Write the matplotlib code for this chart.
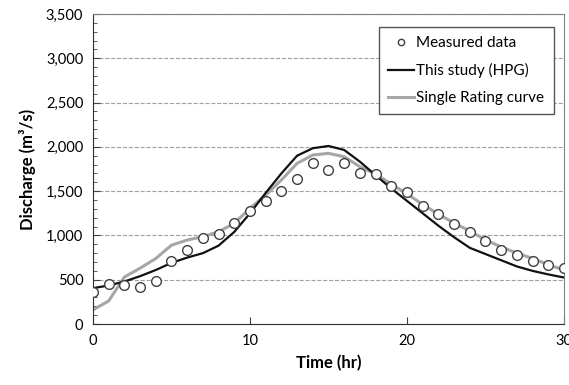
import matplotlib.pyplot as plt
import numpy as np
from matplotlib.ticker import FuncFormatter, MultipleLocator

plt.rcParams['font.family'] = ['Lato', 'DejaVu Sans']

# Data
time_meas = list(range(0, 31))
q_meas = [365, 448, 437, 414, 489, 711, 832, 967, 1016, 1140, 1280, 1393, 1505,
          1641, 1821, 1735, 1821, 1705, 1693, 1558, 1487, 1329, 1246, 1129, 1039,
          933, 839, 779, 715, 662, 636]

time_hpg = list(range(0, 31))
q_hpg = [405, 435, 480, 540, 610, 690, 750, 800, 885, 1040, 1250, 1480, 1700,
         1900, 1985, 2010, 1965, 1833, 1680, 1530, 1390, 1250, 1110, 980, 860,
         790, 720, 650, 600, 560, 525]

time_src = list(range(0, 31))
q_src = [160, 260, 530, 630, 740, 890, 948, 986, 1042, 1137, 1306, 1456, 1626,
         1814, 1908, 1927, 1889, 1776, 1693, 1580, 1470, 1350, 1240, 1140, 1050,
         950, 870, 800, 740, 670, 610]

fig = plt.figure(figsize=(5.69, 3.85), dpi=100)
ax = fig.add_axes([0.1634, 0.1584, 0.8278, 0.8052])

ax.plot(time_meas, q_meas, 'o', markersize=7, markerfacecolor='white',
        markeredgecolor='#404040', markeredgewidth=1.0, label='Measured data', zorder=4)
ax.plot(time_hpg, q_hpg, color='#111111', linewidth=1.6, label='This study (HPG)', zorder=3)
ax.plot(time_src, q_src, color='#a6a6a6', linewidth=2.2, label='Single Rating curve', zorder=2)

ax.set_xlim(0, 30)
ax.set_ylim(0, 3500)
ax.xaxis.set_major_locator(MultipleLocator(10))
ax.yaxis.set_major_locator(MultipleLocator(500))
ax.yaxis.set_minor_locator(MultipleLocator(100))
ax.yaxis.set_major_formatter(FuncFormatter(lambda v, p: '{:,.0f}'.format(v)))

ax.grid(True, axis='y', which='major', linestyle='--', color='#a0a0a0', linewidth=0.8)
ax.set_axisbelow(True)

ax.tick_params(axis='x', which='major', direction='in', length=5, color='#404040',
               labelsize=10.5, pad=7)
ax.tick_params(axis='y', which='major', direction='in', length=5, color='#404040',
               labelsize=10.5, pad=7)
ax.tick_params(axis='y', which='minor', direction='in', length=3, color='#404040')

for side in ['top', 'right']:
    ax.spines[side].set_color('#808080')
for side in ['left', 'bottom']:
    ax.spines[side].set_color('#303030')

ax.set_xlabel('Time (hr)', fontsize=12, fontweight='bold', labelpad=5)
ax.set_ylabel('Discharge (m³/s)', fontsize=12, fontweight='bold', labelpad=7)

leg = ax.legend(loc='upper right', bbox_to_anchor=(0.978, 0.958), fontsize=11,
                fancybox=False, framealpha=1, edgecolor='#555555', markerscale=0.65,
                handlelength=1.7, handletextpad=0.15, borderpad=0.6, labelspacing=0.85,
                borderaxespad=0)
leg.get_frame().set_linewidth(1.0)

fig.savefig('out.png', dpi=100)
